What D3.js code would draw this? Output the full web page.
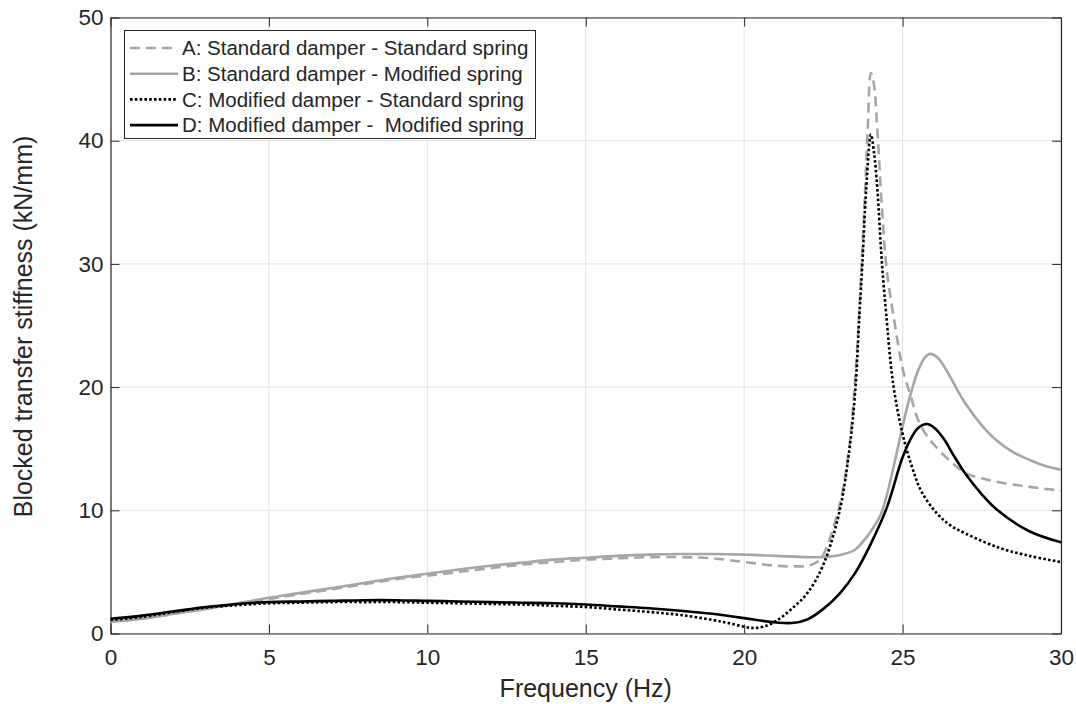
<!DOCTYPE html>
<html><head><meta charset="utf-8">
<script src="https://cdn.jsdelivr.net/npm/d3@7"></script>
<style>body{margin:0;background:#fff}svg{display:block}text{font-family:"Liberation Sans",Arial,sans-serif;fill:#262626}</style>
</head><body><svg id="c" width="1076" height="704"></svg>
<script>
const xTicks=[0,5,10,15,20,25,30];
const yTicks=[0,10,20,30,40,50];
const seriesNames=["A: Standard damper - Standard spring","B: Standard damper - Modified spring","C: Modified damper - Standard spring","D: Modified damper -  Modified spring"];
const freqA=[0,1,2,3,4,5,6,7,8,9,10,11,12,13,14,15,16,17,18,19,20,21,21.5,22,22.3,22.5,23,23.3,23.5,23.7,23.8,23.9,24,24.1,24.2,24.35,24.5,24.7,25,25.14,25.3,25.45,25.7,26,26.5,27,27.5,28,29,30];
const valA=[1.0,1.2,1.6,2.0,2.4,2.8,3.2,3.6,4.0,4.4,4.7,5.0,5.3,5.6,5.8,6.0,6.1,6.2,6.2,6.1,5.8,5.5,5.45,5.5,5.8,6.4,10.3,14.8,20.5,29.5,35,41,45.5,44.5,41,34.5,29.5,26,21.5,20.2,18.9,17.6,16.3,15.3,14.0,13.0,12.6,12.3,11.9,11.6];
const freqB=[0,1,2,3,4,5,6,7,8,9,10,11,12,13,14,15,16,17,18,19,20,21,22,22.5,23,23.5,23.76,24,24.3,24.5,24.8,25,25.24,25.5,25.7,25.87,26.1,26.4,26.7,27,27.5,28,28.5,29,29.5,30];
const valB=[0.95,1.2,1.6,2.0,2.45,2.9,3.3,3.7,4.1,4.5,4.85,5.2,5.5,5.75,6.0,6.15,6.3,6.4,6.45,6.45,6.4,6.3,6.2,6.2,6.35,6.8,7.5,8.3,9.6,11.2,14.5,16.8,19.3,21.4,22.4,22.7,22.4,21.3,19.9,18.6,16.9,15.6,14.7,14.1,13.6,13.3];
const freqC=[0,1,2,3,4,5,6,7,8,9,10,11,12,13,14,15,16,17,18,19,19.5,20,20.3,20.6,21,21.5,22,22.5,23,23.3,23.5,23.64,23.73,23.85,24,24.1,24.2,24.35,24.48,24.7,25,25.3,25.6,26.1,26.5,27,28,29,30];
const valC=[1.1,1.35,1.75,2.1,2.3,2.45,2.5,2.55,2.55,2.55,2.5,2.45,2.4,2.35,2.25,2.15,1.95,1.75,1.5,1.1,0.85,0.55,0.45,0.55,1.0,2.0,3.3,5.6,9.8,14.5,19.5,26,30,36,40.5,39,36.2,30,26,20.3,16.2,13.5,11.5,9.7,8.8,8.1,7.0,6.3,5.8];
const freqD=[0,1,2,3,4,5,6,7,8,9,10,11,12,13,14,15,16,17,18,19,20,20.5,21,21.5,22,22.5,23,23.5,24,24.5,25,25.3,25.5,25.77,26.0,26.3,26.6,27,27.5,28,29,30];
const valD=[1.2,1.45,1.8,2.15,2.4,2.55,2.6,2.65,2.7,2.7,2.65,2.6,2.55,2.5,2.45,2.35,2.2,2.05,1.85,1.6,1.25,1.05,0.9,0.85,1.15,2.0,3.2,4.9,7.3,10.2,14.3,16.0,16.7,17.0,16.7,15.8,14.5,12.9,11.3,10.0,8.3,7.4];
const xLabel="Frequency (Hz)";
const yLabel="Blocked transfer stiffness (kN/mm)";

const svg=d3.select("#c");
const L=110.5,R=1061,T=17.5,B=633.5;
const x=d3.scaleLinear().domain([0,30]).range([L,R]);
const y=d3.scaleLinear().domain([0,50]).range([B,T]);
const axisCol="#262626";

const g=svg.append("g");
g.selectAll(".gx").data(xTicks).enter().append("line").attr("x1",d=>x(d)).attr("x2",d=>x(d)).attr("y1",T).attr("y2",B).attr("stroke","#e3e3e3").attr("stroke-width",1);
g.selectAll(".gy").data(yTicks).enter().append("line").attr("y1",d=>y(d)).attr("y2",d=>y(d)).attr("x1",L).attr("x2",R).attr("stroke","#e3e3e3").attr("stroke-width",1);

const ax=svg.append("g").attr("transform",`translate(0,${B})`).call(d3.axisBottom(x).tickValues(xTicks).tickSizeInner(-9).tickSizeOuter(0).tickPadding(16));
const axT=svg.append("g").attr("transform",`translate(0,${T})`).call(d3.axisTop(x).tickValues(xTicks).tickSizeInner(-9).tickSizeOuter(0).tickFormat(""));
const ay=svg.append("g").attr("transform",`translate(${L},0)`).call(d3.axisLeft(y).tickValues(yTicks).tickSizeInner(-9).tickSizeOuter(0).tickPadding(7));
const ayR=svg.append("g").attr("transform",`translate(${R},0)`).call(d3.axisRight(y).tickValues(yTicks).tickSizeInner(-9).tickSizeOuter(0).tickFormat(""));
[ax,axT,ay,ayR].forEach(a=>{a.select(".domain").attr("stroke",axisCol).attr("stroke-width",1.2);a.selectAll(".tick line").attr("stroke",axisCol);a.selectAll("text").attr("font-size",22.5).attr("fill",axisCol).style("font-family","Liberation Sans, Arial, sans-serif");});
ax.selectAll("text").attr("dy","0.71em");

svg.append("text").attr("x",(L+R)/2).attr("y",697).attr("text-anchor","middle").attr("font-size",25).text(xLabel);
svg.append("text").attr("transform",`translate(32,326.5) rotate(-90)`).attr("text-anchor","middle").attr("font-size",25).text(yLabel);

const styles=[
 {c:"#a6a6a6",w:2.6,dash:"10,6"},
 {c:"#a6a6a6",w:2.6,dash:null},
 {c:"#000",w:2.6,dash:"2.6,2.2"},
 {c:"#000",w:2.6,dash:null}
];
const data=[[freqA,valA],[freqB,valB],[freqC,valC],[freqD,valD]];
const line=d3.line().x(d=>x(d[0])).y(d=>y(d[1])).curve(d3.curveCatmullRom.alpha(0.5));
svg.append("clipPath").attr("id","cp").append("rect").attr("x",L).attr("y",T).attr("width",R-L).attr("height",B-T);
const plotG=svg.append("g").attr("clip-path","url(#cp)");
data.forEach((d,i)=>{
  const pts=d[0].map((f,j)=>[f,d[1][j]]);
  const p=plotG.append("path").attr("d",line(pts)).attr("fill","none").attr("stroke",styles[i].c).attr("stroke-width",styles[i].w).attr("stroke-linejoin","round");
  if(styles[i].dash)p.attr("stroke-dasharray",styles[i].dash);
});

const lg=svg.append("g");
lg.append("rect").attr("x",124.5).attr("y",30.5).attr("width",411).attr("height",108).attr("fill","#fff").attr("stroke","#262626").attr("stroke-width",1);
const rows=[48,73.7,99.4,125.1];
seriesNames.forEach((n,i)=>{
  const l=lg.append("line").attr("x1",130).attr("x2",178).attr("y1",rows[i]).attr("y2",rows[i]).attr("stroke",styles[i].c).attr("stroke-width",styles[i].w);
  if(styles[i].dash)l.attr("stroke-dasharray",styles[i].dash);
  lg.append("text").attr("x",182).attr("y",rows[i]).attr("dy","0.35em").attr("font-size",20.5).style("white-space","pre").text(n);
});
</script></body></html>
